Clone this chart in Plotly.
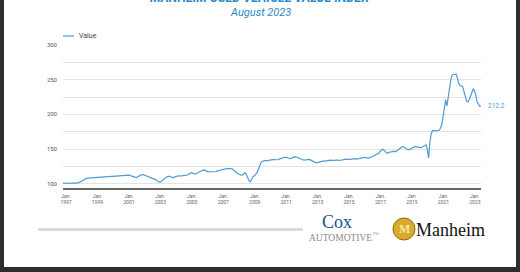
import plotly.graph_objects as go
import pandas as pd

# ---- data: Manheim Used Vehicle Value Index, monthly Jan 1997 - Aug 2023 ----
years_values = {
    1997: [100.5, 100.2, 100.8, 101.0, 100.6, 100.3, 100.5, 100.9, 100.7, 100.4, 100.8, 101.2],
    1998: [101.5, 102.3, 103.4, 104.6, 105.8, 106.9, 107.6, 107.9, 108.1, 108.4, 108.8, 109.0],
    1999: [109.2, 109.0, 109.4, 109.6, 109.5, 109.8, 110.0, 109.8, 110.1, 110.0, 110.2, 110.4],
    2000: [110.5, 110.7, 110.6, 110.8, 111.0, 110.9, 111.2, 111.4, 111.3, 111.6, 111.8, 112.0],
    2001: [112.1, 112.0, 112.3, 112.0, 111.6, 111.0, 110.2, 109.4, 108.8, 109.5, 111.0, 112.4],
    2002: [113.4, 113.2, 112.5, 111.8, 111.0, 110.3, 109.6, 108.9, 108.0, 107.1, 106.3, 105.5],
    2003: [104.0, 102.5, 102.0, 103.5, 105.5, 106.5, 108.0, 109.5, 110.8, 111.0, 110.0, 109.0],
    2004: [108.7, 109.5, 110.4, 111.2, 111.4, 111.0, 111.3, 111.5, 111.2, 111.4, 111.6, 112.5],
    2005: [114.0, 115.5, 116.0, 115.2, 114.4, 114.0, 114.8, 116.0, 117.0, 118.0, 119.0, 119.5],
    2006: [119.8, 118.5, 117.4, 117.0, 117.2, 117.4, 117.1, 116.9, 117.0, 117.5, 118.5, 119.3],
    2007: [119.8, 120.0, 120.5, 121.0, 121.5, 121.8, 122.0, 122.0, 121.8, 121.5, 120.0, 118.0],
    2008: [116.0, 115.0, 114.0, 113.0, 112.5, 112.8, 114.5, 116.0, 113.0, 108.0, 104.0, 103.0],
    2009: [108.0, 110.0, 111.5, 113.0, 115.5, 120.0, 126.0, 130.0, 132.0, 133.0, 133.5, 133.0],
    2010: [133.5, 133.0, 134.0, 135.0, 135.5, 135.0, 134.5, 134.0, 134.5, 135.5, 136.5, 137.0],
    2011: [137.5, 138.0, 138.5, 138.0, 137.0, 136.0, 136.5, 137.5, 138.5, 139.0, 138.5, 137.5],
    2012: [136.5, 135.5, 135.0, 134.5, 134.0, 134.5, 135.0, 135.5, 135.0, 134.0, 133.0, 132.0],
    2013: [131.0, 130.0, 130.5, 131.0, 132.0, 133.0, 133.5, 133.0, 132.5, 133.0, 133.5, 134.0],
    2014: [134.0, 133.5, 133.0, 133.5, 134.0, 134.5, 134.0, 133.5, 134.0, 134.5, 135.0, 135.0],
    2015: [135.5, 135.0, 134.5, 135.0, 135.5, 136.0, 136.5, 136.0, 135.5, 136.0, 137.0, 137.5],
    2016: [138.0, 138.5, 138.0, 137.5, 137.0, 137.0, 137.5, 138.0, 139.0, 140.0, 141.0, 141.8],
    2017: [142.0, 144.0, 146.5, 149.0, 150.0, 148.0, 145.5, 144.0, 144.5, 145.5, 146.0, 146.0],
    2018: [146.5, 147.0, 146.0, 147.5, 149.0, 151.0, 153.0, 153.7, 153.0, 151.5, 150.0, 149.0],
    2019: [149.0, 149.5, 150.5, 152.0, 153.5, 153.7, 153.0, 152.5, 152.0, 152.0, 152.5, 153.5],
    2020: [154.5, 156.0, 150.0, 137.0, 160.0, 172.0, 176.5, 177.0, 176.5, 176.0, 176.5, 177.0],
    2021: [180.0, 185.0, 196.0, 212.0, 221.0, 212.0, 222.0, 238.0, 250.0, 256.8, 257.5, 258.0],
    2022: [258.0, 252.0, 245.0, 242.0, 241.0, 240.0, 233.0, 226.0, 219.0, 218.0, 221.0, 226.0],
    2023: [232.0, 237.0, 234.0, 228.0, 218.0, 214.0, 211.5, 212.2],
}

dates = []
values = []
for yr, vals in years_values.items():
    for m, v in enumerate(vals):
        dates.append(pd.Timestamp(year=yr, month=m + 1, day=1))
        values.append(v)

tick_years = list(range(1997, 2024, 2))
tick_dates = [pd.Timestamp(year=y, month=1, day=1) for y in tick_years]
tick_text = [f"Jan.<br>{y}" for y in tick_years]

title_text = "MANHEIM USED VEHICLE VALUE INDEX"
subtitle_text = "August 2023"
series_name = "Value"

LINE = "#4f9bd4"
BLUE_T = "#2a8ac9"

W, H = 520, 272
ML, MR, MT, MB = 63, 39, 45, 84
PW, PH = W - ML - MR, H - MT - MB


def px(x):
    return (x - ML) / PW


def py(y):
    return (H - MB - y) / PH


fig = go.Figure()
fig.add_trace(go.Scatter(x=dates, y=values, mode="lines", name=series_name,
                         line=dict(color=LINE, width=1.2), showlegend=False))

shapes = []
annotations = []

# legend (manual)
shapes.append(dict(type="line", xref="paper", yref="paper", x0=px(63), x1=px(74),
                   y0=py(36), y1=py(36), line=dict(color=LINE, width=1.2)))
annotations.append(dict(xref="paper", yref="paper", x=px(76.5), y=py(36), text=series_name,
                        showarrow=False, xanchor="left", yanchor="middle",
                        font=dict(family="Roboto", size=7, color="#444")))

# titles
annotations.append(dict(xref="paper", yref="paper", x=px(260), y=py(-2), text=f"<b><i>{title_text}</i></b>",
                        showarrow=False, xanchor="center", yanchor="middle",
                        font=dict(family="Roboto", size=12.5, color=BLUE_T)))
annotations.append(dict(xref="paper", yref="paper", x=px(260), y=py(12.5), text=f"<i>{subtitle_text}</i>",
                        showarrow=False, xanchor="center", yanchor="middle",
                        font=dict(family="Roboto", size=11, color=BLUE_T)))

# end label
annotations.append(dict(x=dates[-1], y=values[-1], text=f"{values[-1]:.1f}", showarrow=False,
                        xanchor="left", yanchor="middle", xshift=5,
                        font=dict(family="Roboto", size=6.5, color=LINE)))

# gray scroll bar
shapes.append(dict(type="rect", xref="paper", yref="paper", x0=px(38), x1=px(303),
                   y0=py(231), y1=py(228), line=dict(width=0), fillcolor="#dcdcdc"))

# logos
annotations.append(dict(xref="paper", yref="paper", x=px(337), y=py(222), text="Cox",
                        showarrow=False, xanchor="center", yanchor="middle",
                        font=dict(family="Liberation Serif", size=18, color="#1d4f91")))
annotations.append(dict(xref="paper", yref="paper", x=px(344), y=py(237), text="AUTOMOTIVE<sup>™</sup>",
                        showarrow=False, xanchor="center", yanchor="middle",
                        font=dict(family="Liberation Serif", size=9.5, color="#8a8a8a")))
shapes.append(dict(type="circle", xref="paper", yref="paper", x0=px(393), x1=px(415),
                   y0=py(240), y1=py(218), line=dict(color="#8a6a10", width=1), fillcolor="#d9ab2a"))
annotations.append(dict(xref="paper", yref="paper", x=px(404), y=py(229), text="<b>M</b>",
                        showarrow=False, xanchor="center", yanchor="middle",
                        font=dict(family="Liberation Serif", size=12, color="#f5e6a8")))
annotations.append(dict(xref="paper", yref="paper", x=px(450), y=py(230), text="Manheim",
                        showarrow=False, xanchor="center", yanchor="middle",
                        font=dict(family="Liberation Serif", size=18, color="#111")))

# dark frame
DARK = "#2e2e2e"
shapes.append(dict(type="rect", xref="paper", yref="paper", x0=px(-2), x1=px(4),
                   y0=py(280), y1=py(-10), line=dict(width=0), fillcolor=DARK))
shapes.append(dict(type="rect", xref="paper", yref="paper", x0=px(516), x1=px(524),
                   y0=py(280), y1=py(-10), line=dict(width=0), fillcolor=DARK))
shapes.append(dict(type="rect", xref="paper", yref="paper", x0=px(-2), x1=px(524),
                   y0=py(280), y1=py(267), line=dict(width=0), fillcolor=DARK))

fig.update_layout(
    width=W, height=H,
    margin=dict(l=ML, r=MR, t=MT, b=MB, pad=0),
    paper_bgcolor="white", plot_bgcolor="white",
    font=dict(family="Roboto", color="#555"),
    shapes=shapes, annotations=annotations,
    xaxis=dict(type="date", range=[dates[0], dates[-1]], tickvals=tick_dates, ticktext=tick_text,
               showgrid=False, showline=True, linecolor="#666", linewidth=1.5,
               ticks="", tickfont=dict(size=5, color="#666"), zeroline=False,
               ticklabelshift=3, ticklabelstandoff=2),
    yaxis=dict(range=[93.8, 300], dtick=50, tick0=0, showgrid=True, gridcolor="#e4e4e4", gridwidth=1,
               minor=dict(dtick=25, showgrid=True, gridcolor="#e4e4e4", gridwidth=1),
               zeroline=False, showline=False, ticks="", tickfont=dict(size=6, color="#555"),
               ticklabelstandoff=5),
)

fig.write_html("out.html")
